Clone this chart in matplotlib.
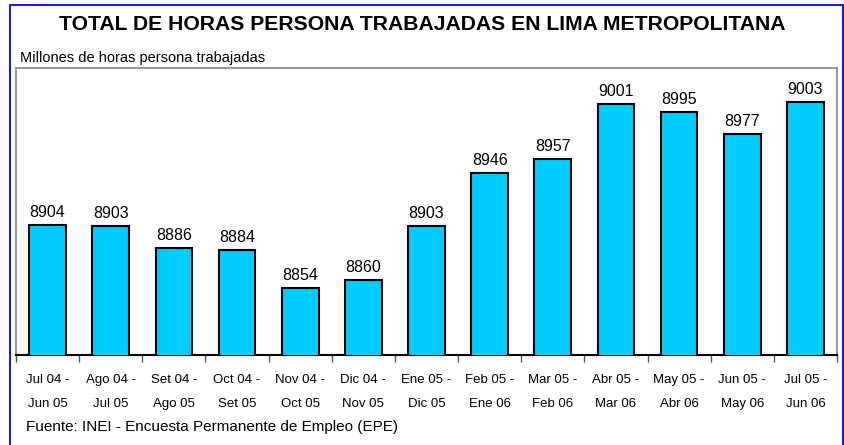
import matplotlib
matplotlib.use("Agg")
import matplotlib.pyplot as plt
from matplotlib.patches import Rectangle

plt.rcParams['font.family'] = ['Liberation Sans', 'DejaVu Sans']

categories = ["Jul 04 -\nJun 05", "Ago 04 -\nJul 05", "Set 04 -\nAgo 05", "Oct 04 -\nSet 05",
              "Nov 04 -\nOct 05", "Dic 04 -\nNov 05", "Ene 05 -\nDic 05", "Feb 05 -\nEne 06",
              "Mar 05 -\nFeb 06", "Abr 05 -\nMar 06", "May 05 -\nAbr 06", "Jun 05 -\nMay 06",
              "Jul 05 -\nJun 06"]
values = [8904, 8903, 8886, 8884, 8854, 8860, 8903, 8946, 8957, 9001, 8995, 8977, 9003]

W, H = 844, 445
fig = plt.figure(figsize=(W/100, H/100), dpi=100)

# outer blue frame
fig.patches.append(Rectangle((10/W, -0.05), (843-10)/W, (H-5)/H + 0.05, transform=fig.transFigure,
                             fill=False, edgecolor='#0000FF', linewidth=1.3))

ax = fig.add_axes([16/W, (H-355)/H, (837-16)/W, (355-68)/H])
x = list(range(len(values)))
ax.bar(x, values, width=0.58, color='#00CCFF', edgecolor='black', linewidth=1.5, zorder=3)
ax.set_ylim(8800, 9030)
ax.set_xlim(-0.5, len(values) - 0.5)
ax.set_yticks([])
for xi, v in zip(x, values):
    ax.text(xi, v + 4, str(v), ha='center', va='bottom', fontsize=11.5)

ax.set_xticks([i - 0.5 for i in range(len(values) + 1)])
ax.set_xticklabels([])
ax.set_xticks(x, minor=True)
ax.set_xticklabels(categories, minor=True, fontsize=9.5, linespacing=2.3)
ax.tick_params(axis='x', which='major', length=5, width=1, color='#555555', direction='out')
ax.tick_params(axis='x', which='minor', length=0, pad=14)
for s in ['top', 'left', 'right']:
    ax.spines[s].set_color('#999999')
    ax.spines[s].set_linewidth(1.5)
ax.spines['bottom'].set_color('black')
ax.spines['bottom'].set_linewidth(1.5)

fig.text(0.5, (H-25)/H, "TOTAL DE HORAS PERSONA TRABAJADAS EN LIMA METROPOLITANA",
         ha='center', va='center', fontsize=15.2, fontweight='bold')
fig.text(20/W, (H-58)/H, "Millones de horas persona trabajadas", ha='left', va='center', fontsize=10.5)
fig.text(26/W, (H-427)/H, "Fuente: INEI - Encuesta Permanente de Empleo (EPE)", ha='left', va='center', fontsize=11)

fig.savefig("out.png", dpi=100)
